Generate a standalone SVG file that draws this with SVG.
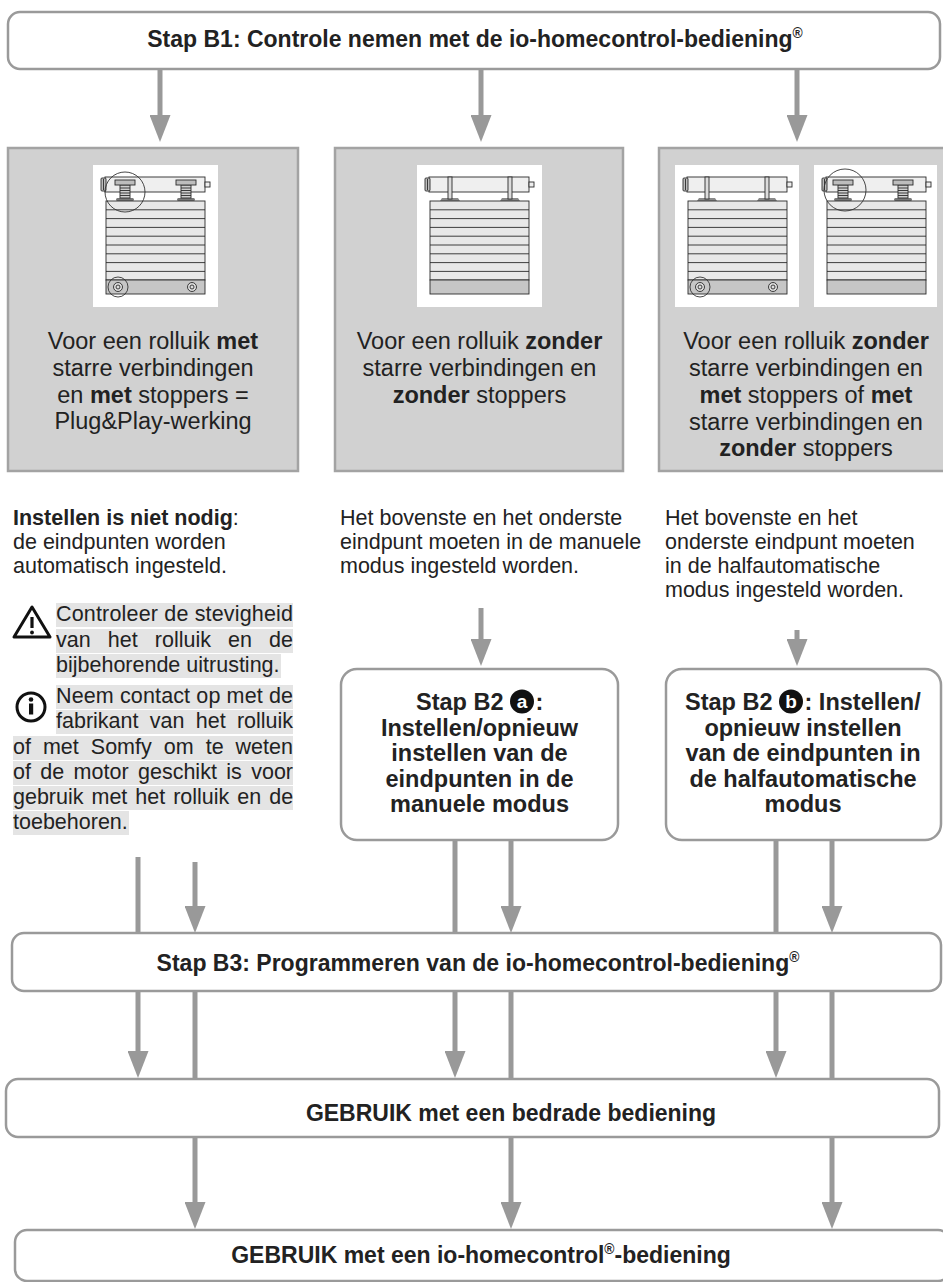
<svg xmlns="http://www.w3.org/2000/svg" xmlns:xlink="http://www.w3.org/1999/xlink" width="943" height="1282" viewBox="0 0 943 1282">
  <style>
    text { font-family: "Liberation Sans", Arial, Helvetica, sans-serif; fill: #222; }
    .hdr { font-size: 23px; font-weight: bold; text-anchor: middle; }
    .b2 { font-size: 23.5px; font-weight: bold; text-anchor: middle; }
    .b2s { font-size: 23.5px; font-weight: bold; }
    .gt { font-size: 23.5px; text-anchor: middle; }
    .body { font-size: 21.5px; }
    .b { font-weight: bold; }
    .sup { font-size: 60%; }
    .box { fill: #fff; stroke: #9a9a9a; stroke-width: 2.5; }
    .gbox { fill: #d1d1d1; stroke: #a3a3a3; stroke-width: 2.5; }
    .panel { fill: #fff; }
    .band { fill: #e4e4e4; }
    .conn { stroke: #999; stroke-width: 5; fill: none; }
    .arr { marker-end: url(#ah); }
    .ln { stroke: #2a2a2a; stroke-width: 0.9; }
    .ring { fill: none; stroke: #333; stroke-width: 0.9; }
    .icon { fill: #fff; stroke: #111; stroke-width: 3; stroke-linejoin: round; }
    .badge { fill: #111; }
    .badge-t { font-size: 19px; font-weight: bold; fill: #fff; text-anchor: middle; }
  </style>
  <defs>
    <marker id="ah" viewBox="0 0 27 21" refX="1" refY="10.5" markerWidth="27" markerHeight="21" markerUnits="userSpaceOnUse" orient="auto">
      <path d="M0,0 L27,10.5 L0,21 Z" fill="#999"/>
    </marker>
    <!-- roller tube with motor head and end pin -->
    <g id="tube">
      <rect x="12" y="12" width="100" height="15" fill="#efefef" class="ln"/>
      <rect x="8" y="13" width="5" height="13" rx="1" fill="#bdbdbd" class="ln"/>
      <line x1="10.5" y1="14" x2="10.5" y2="25" class="ln"/>
      <rect x="112" y="17" width="5" height="5" fill="#eee" class="ln"/>
    </g>
    <!-- curtain slats with bottom bar -->
    <g id="slats">
      <rect x="13" y="36" width="99" height="79" fill="#e8e8e8" class="ln" stroke-width="1"/>
      <path d="M13,44.8H112M13,53.6H112M13,62.4H112M13,71.2H112M13,80H112M13,88.8H112M13,97.6H112M13,106.4H112" class="ln"/>
      <rect x="13" y="115" width="99" height="14" fill="#c6c6c6" class="ln" stroke-width="1"/>
    </g>
    <!-- stopper between tube and curtain -->
    <g id="stopper">
      <rect x="-9" y="33" width="18" height="3" rx="1.5" fill="#777"/>
      <rect x="-5" y="20" width="10" height="13" fill="#cfcfcf" class="ln"/>
      <path d="M-5,23H5M-5,25.5H5M-5,28H5M-5,30.5H5" class="ln" stroke-width="0.7"/>
      <rect x="-10" y="15" width="20" height="5" fill="#bdbdbd" class="ln"/>
    </g>
    <!-- rigid link between tube and curtain -->
    <g id="link">
      <path d="M-10,36 L-8,33 L8,33 L10,36 Z" fill="#8a8a8a"/>
      <rect x="-2" y="12" width="4" height="22" fill="#dcdcdc" class="ln"/>
    </g>
    <!-- bottom bar stop -->
    <g id="bstop">
      <circle r="4.5" fill="#ddd" class="ln"/>
      <circle r="2" fill="none" class="ln"/>
    </g>
  </defs>

  <rect width="943" height="1282" fill="#fff"/>

  <!-- connectors -->
  <g id="connectors">
    <path class="conn arr" d="M160,69V116"/>
    <path class="conn arr" d="M481,69V116"/>
    <path class="conn arr" d="M797,69V116"/>
    <path class="conn arr" d="M481,608V640"/>
    <path class="conn arr" d="M797,630V640"/>
    <path class="conn" d="M138,857V933"/>
    <path class="conn arr" d="M195,862V907"/>
    <path class="conn" d="M455,840V933"/>
    <path class="conn arr" d="M511,840V907"/>
    <path class="conn" d="M776,840V933"/>
    <path class="conn arr" d="M832,840V907"/>
    <path class="conn arr" d="M138,991V1052"/>
    <path class="conn" d="M195,991V1079"/>
    <path class="conn arr" d="M455,991V1052"/>
    <path class="conn" d="M511,991V1079"/>
    <path class="conn arr" d="M776,991V1052"/>
    <path class="conn" d="M832,991V1079"/>
    <path class="conn arr" d="M195,1137V1203"/>
    <path class="conn arr" d="M511,1137V1203"/>
    <path class="conn arr" d="M832,1137V1203"/>
  </g>

  <!-- step B1 -->
  <g id="step-b1">
    <rect class="box" x="8" y="12" width="932" height="57" rx="12"/>
    <text class="hdr" x="475" y="47">Stap B1: Controle nemen met de io-homecontrol-bediening<tspan class="sup" dy="-9">®</tspan></text>
  </g>

  <!-- case 1: rigid links and stoppers -->
  <g id="case-plugplay">
    <rect class="gbox" x="8" y="148" width="290" height="323"/>
    <g transform="translate(93,165)">
      <rect class="panel" width="125" height="142"/>
      <use xlink:href="#tube"/>
      <use xlink:href="#stopper" x="32"/>
      <use xlink:href="#stopper" x="93"/>
      <use xlink:href="#slats"/>
      <use xlink:href="#bstop" x="25" y="122"/>
      <use xlink:href="#bstop" x="99" y="122"/>
      <circle class="ring" cx="32" cy="27" r="20"/>
      <circle class="ring" cx="25" cy="122" r="10"/>
    </g>
    <text class="gt" x="153" y="349">Voor een rolluik <tspan class="b">met</tspan></text>
    <text class="gt" x="153" y="376">starre verbindingen</text>
    <text class="gt" x="153" y="403">en <tspan class="b">met</tspan> stoppers =</text>
    <text class="gt" x="153" y="429">Plug&amp;Play-werking</text>
  </g>

  <!-- case 2: no links, no stoppers -->
  <g id="case-manual">
    <rect class="gbox" x="335" y="148" width="288" height="323"/>
    <g transform="translate(417,165)">
      <rect class="panel" width="125" height="142"/>
      <use xlink:href="#tube"/>
      <use xlink:href="#link" x="33"/>
      <use xlink:href="#link" x="93"/>
      <use xlink:href="#slats"/>
    </g>
    <text class="gt" x="479.5" y="349">Voor een rolluik <tspan class="b">zonder</tspan></text>
    <text class="gt" x="479.5" y="376">starre verbindingen en</text>
    <text class="gt" x="479.5" y="403"><tspan class="b">zonder</tspan> stoppers</text>
  </g>

  <!-- case 3: either links or stoppers -->
  <g id="case-semiauto">
    <rect class="gbox" x="659" y="148" width="300" height="323"/>
    <g transform="translate(675,165)">
      <rect class="panel" width="124" height="142"/>
      <use xlink:href="#tube"/>
      <use xlink:href="#link" x="32"/>
      <use xlink:href="#link" x="92"/>
      <use xlink:href="#slats"/>
      <use xlink:href="#bstop" x="25" y="122"/>
      <use xlink:href="#bstop" x="98" y="122"/>
      <circle class="ring" cx="25" cy="122" r="10"/>
    </g>
    <g transform="translate(814,165)">
      <rect class="panel" width="123" height="142"/>
      <use xlink:href="#tube"/>
      <use xlink:href="#stopper" x="29"/>
      <use xlink:href="#stopper" x="89"/>
      <use xlink:href="#slats"/>
      <circle class="ring" cx="31" cy="25" r="21"/>
    </g>
    <text class="gt" x="806" y="349">Voor een rolluik <tspan class="b">zonder</tspan></text>
    <text class="gt" x="806" y="376">starre verbindingen en</text>
    <text class="gt" x="806" y="403"><tspan class="b">met</tspan> stoppers of <tspan class="b">met</tspan></text>
    <text class="gt" x="806" y="430">starre verbindingen en</text>
    <text class="gt" x="806" y="456"><tspan class="b">zonder</tspan> stoppers</text>
  </g>

  <!-- no setting needed + notes -->
  <g id="note-auto">
    <text class="body" x="13" y="525"><tspan class="b">Instellen is niet nodig</tspan>:</text>
    <text class="body" x="13" y="549">de eindpunten worden</text>
    <text class="body" x="13" y="573">automatisch ingesteld.</text>

    <rect class="band" x="56" y="603" width="237" height="24"/>
    <rect class="band" x="56" y="629" width="237" height="24"/>
    <rect class="band" x="56" y="654" width="225" height="24"/>
    <rect class="band" x="56" y="685" width="237" height="24"/>
    <rect class="band" x="56" y="710" width="237" height="24"/>
    <rect class="band" x="13" y="736" width="280" height="24"/>
    <rect class="band" x="13" y="761" width="280" height="24"/>
    <rect class="band" x="13" y="786" width="280" height="24"/>
    <rect class="band" x="13" y="811" width="116" height="24"/>

    <polygon class="icon" points="14,637 50,637 32,607"/>
    <line x1="32" y1="617" x2="32" y2="628" stroke="#111" stroke-width="3.2"/>
    <circle cx="32" cy="632.5" r="1.9" fill="#111"/>

    <circle class="icon" cx="31" cy="707" r="14"/>
    <circle cx="31" cy="699.5" r="2.3" fill="#111"/>
    <rect x="29" y="703.5" width="4.2" height="11" fill="#111"/>

    <text class="body" x="56" y="621" textLength="237" lengthAdjust="spacing">Controleer de stevigheid</text>
    <text class="body" y="647"><tspan x="56">van</tspan><tspan x="107.8">het</tspan><tspan x="154.8">rolluik</tspan><tspan x="228">en</tspan><tspan x="269.1">de</tspan></text>
    <text class="body" x="56" y="672">bijbehorende uitrusting.</text>
    <text class="body" x="56" y="703" textLength="237" lengthAdjust="spacing">Neem contact op met de</text>
    <text class="body" y="728"><tspan x="56">fabrikant</tspan><tspan x="149.8">van</tspan><tspan x="195.8">het</tspan><tspan x="236.9">rolluik</tspan></text>
    <text class="body" y="754"><tspan x="13">of</tspan><tspan x="42.9">met</tspan><tspan x="90.8">Somfy</tspan><tspan x="163.7">om</tspan><tspan x="205.7">te</tspan><tspan x="235.6">weten</tspan></text>
    <text class="body" y="779"><tspan x="13">of</tspan><tspan x="40.3">de</tspan><tspan x="73.6">motor</tspan><tspan x="138">geschikt</tspan><tspan x="226.3">is</tspan><tspan x="251.2">voor</tspan></text>
    <text class="body" y="804"><tspan x="13">gebruik</tspan><tspan x="91.5">met</tspan><tspan x="135.3">het</tspan><tspan x="173.2">rolluik</tspan><tspan x="237.3">en</tspan><tspan x="269.2">de</tspan></text>
    <text class="body" x="13" y="829">toebehoren.</text>
  </g>

  <g id="note-manual">
    <text class="body" x="340" y="525">Het bovenste en het onderste</text>
    <text class="body" x="340" y="549">eindpunt moeten in de manuele</text>
    <text class="body" x="340" y="573">modus ingesteld worden.</text>
  </g>

  <g id="note-semiauto">
    <text class="body" x="665" y="525">Het bovenste en het</text>
    <text class="body" x="665" y="549">onderste eindpunt moeten</text>
    <text class="body" x="665" y="573">in de halfautomatische</text>
    <text class="body" x="665" y="597">modus ingesteld worden.</text>
  </g>

  <!-- step B2a -->
  <g id="step-b2a">
    <rect class="box" x="341" y="669" width="277" height="171" rx="16"/>
    <text class="b2s" x="416" y="710">Stap B2</text>
    <circle class="badge" cx="522" cy="701.5" r="12"/>
    <text class="badge-t" x="522" y="708">a</text>
    <text class="b2s" x="535.5" y="710">:</text>
    <text class="b2" x="479.5" y="735.5">Instellen/opnieuw</text>
    <text class="b2" x="479.5" y="761">instellen van de</text>
    <text class="b2" x="479.5" y="786.5">eindpunten in de</text>
    <text class="b2" x="479.5" y="812">manuele modus</text>
  </g>

  <!-- step B2b -->
  <g id="step-b2b">
    <rect class="box" x="666" y="669" width="275" height="171" rx="16"/>
    <text class="b2s" x="685" y="710">Stap B2</text>
    <circle class="badge" cx="791" cy="701.5" r="12"/>
    <text class="badge-t" x="791" y="708">b</text>
    <text class="b2s" x="804.5" y="710">: Instellen/</text>
    <text class="b2" x="803" y="735.5">opnieuw instellen</text>
    <text class="b2" x="803" y="761">van de eindpunten in</text>
    <text class="b2" x="803" y="786.5">de halfautomatische</text>
    <text class="b2" x="803" y="812">modus</text>
  </g>

  <!-- step B3 -->
  <g id="step-b3">
    <rect class="box" x="12" y="933" width="929" height="58" rx="12"/>
    <text class="hdr" x="478" y="971">Stap B3: Programmeren van de io-homecontrol-bediening<tspan class="sup" dy="-9">®</tspan></text>
  </g>

  <!-- wired control use -->
  <g id="use-wired">
    <rect class="box" x="6" y="1079" width="933" height="58" rx="12"/>
    <text class="hdr" x="511" y="1121">GEBRUIK met een bedrade bediening</text>
  </g>

  <!-- io-homecontrol use -->
  <g id="use-io">
    <rect class="box" x="15" y="1230" width="935" height="51" rx="12"/>
    <text class="hdr" x="481" y="1263">GEBRUIK met een io-homecontrol<tspan class="sup" dy="-9">®</tspan><tspan dy="9">-bediening</tspan></text>
  </g>
</svg>
